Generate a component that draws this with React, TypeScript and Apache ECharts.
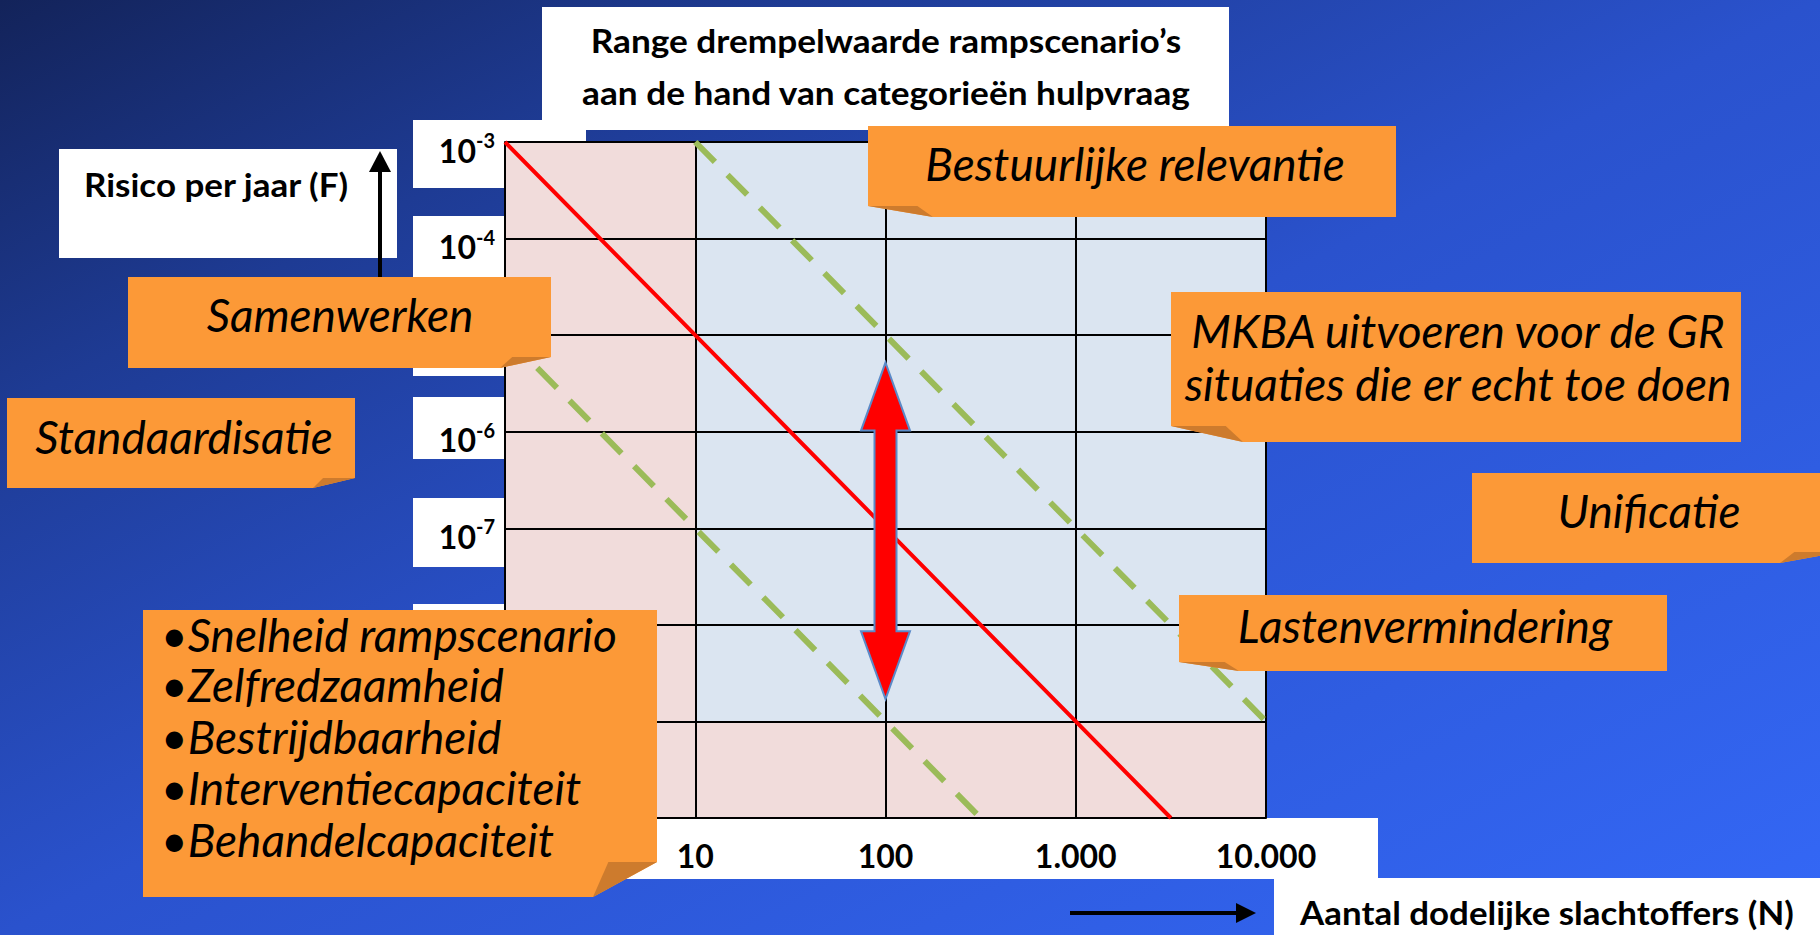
import React, { useEffect, useRef } from 'react';
import * as echarts from 'echarts';

// ---------- data ----------
const xExtent = [1, 10000];
const yExtent = [1e-10, 1e-3];
const redNorm = [[1, 1e-3], [10, 1e-5], [100, 1e-7], [1000, 1e-9], [3162, 1e-10]];
const greenUpper = [[10, 1e-3], [100, 1e-5], [1000, 1e-7], [10000, 1e-9]];
const greenLower = [[1, 1e-5], [10, 1e-7], [100, 1e-9], [316, 1e-10]];
// [xFrom, xTo, yFrom, yTo, zoneIndex]
const zoneRects = [
  [1, 10, 1e-10, 1e-3, 0],
  [10, 10000, 1e-10, 1e-9, 0],
  [10, 10000, 1e-9, 1e-3, 1],
];
// [x, yTop, yBottom]
const rangeArrow = [[100, 5.2e-6, 1.7e-9]];
// tick labels that are visible (the others sit behind the callout boxes)
const visibleXLabels = [10, 100, 1000, 10000];
const visibleYExponents = [-3, -4, -6, -7];

const titleLines = ['Range drempelwaarde rampscenario’s', 'aan de hand van categorieën hulpvraag'];
const yAxisName = 'Risico per jaar (F)';
const xAxisName = 'Aantal dodelijke slachtoffers (N)';
const bulletItems = ['Snelheid rampscenario', 'Zelfredzaamheid', 'Bestrijdbaarheid', 'Interventiecapaciteit', 'Behandelcapaciteit'];

// ---------- styles ----------
const FONT = 'Lato, "Open Sans", sans-serif';
const ZONE_COLORS = ['#F1DCDB', '#DBE5F1'];
const ORANGE = '#FC9937';
const FOLD = '#CD7B2D';

type Callout = {
  lines: string[];
  box: number[];
  fold: 'left' | 'right';
  fw: number;
  fd: number;
  tx: number;
  ty: number[];
  align?: 'left' | 'center';
};

const callouts: Callout[] = [
  { lines: ['Samenwerken'], box: [128, 277, 551, 368], fold: 'right', fw: 51, fd: 11, tx: 340, ty: [314] },
  { lines: ['Standaardisatie'], box: [7, 398, 355, 488], fold: 'right', fw: 42, fd: 10, tx: 184, ty: [436] },
  { lines: ['Bestuurlijke relevantie'], box: [868, 126, 1396, 217], fold: 'left', fw: 65, fd: 11, tx: 1135, ty: [163] },
  { lines: ['MKBA uitvoeren voor de GR', 'situaties die er echt toe doen'], box: [1171, 292, 1741, 442], fold: 'left', fw: 72, fd: 16, tx: 1458, ty: [330, 383] },
  { lines: ['Unificatie'], box: [1472, 473, 1840, 563], fold: 'right', fw: 60, fd: 11, tx: 1649, ty: [510] },
  { lines: ['Lastenvermindering'], box: [1179, 595, 1667, 671], fold: 'left', fw: 60, fd: 9, tx: 1425, ty: [625] },
  { lines: bulletItems.map((s) => '•' + s), box: [143, 610, 657, 897], fold: 'right', fw: 64, fd: 35, tx: 161, ty: [634, 684, 736, 787, 839], align: 'left' },
];

function calloutElements(c: Callout) {
  const [x0, y0, x1, y1] = c.box;
  const { fw, fd } = c;
  let pts: number[][];
  let foldPts: number[][];
  if (c.fold === 'right') {
    pts = [[x0, y0], [x1, y0], [x1, y1 - fd], [x1 - fw, y1], [x0, y1]];
    foldPts = [[x1 - fw, y1], [x1 - fw * 0.76, y1 - fd], [x1, y1 - fd]];
  } else {
    pts = [[x0, y0], [x1, y0], [x1, y1], [x0 + fw, y1], [x0, y1 - fd]];
    foldPts = [[x0 + fw, y1], [x0 + fw * 0.76, y1 - fd], [x0, y1 - fd]];
  }
  const els: any[] = [
    { type: 'polygon', z: 20, silent: true, shape: { points: pts }, style: { fill: ORANGE } },
    { type: 'polygon', z: 21, silent: true, shape: { points: foldPts }, style: { fill: FOLD } },
  ];
  c.lines.forEach((line, i) => {
    els.push({
      type: 'text',
      z: 22,
      silent: true,
      x: c.tx,
      y: c.ty[i],
      style: {
        text: line,
        fill: '#000',
        fontFamily: FONT,
        fontStyle: 'italic',
        fontSize: 46,
        align: c.align || 'center',
        verticalAlign: 'middle',
      },
    });
  });
  return els;
}

function whiteRect(x: number, y: number, w: number, h: number) {
  return { type: 'rect', z: 0, silent: true, shape: { x, y, width: w, height: h }, style: { fill: '#fff' } };
}

function boldText(text: string, x: number, y: number, size: number, sx: number) {
  return {
    type: 'text',
    z: 5,
    silent: true,
    x,
    y,
    scaleX: sx,
    style: { text, fill: '#000', fontFamily: FONT, fontWeight: 'bold', fontSize: size, align: 'center', verticalAlign: 'middle' },
  };
}

function formatN(v: number) {
  const n = Math.round(v);
  if (visibleXLabels.indexOf(n) < 0) return '';
  return String(n).replace(/\B(?=(\d{3})+(?!\d))/g, '.');
}

function formatF(v: number) {
  const e = Math.round(Math.log10(v));
  if (visibleYExponents.indexOf(e) < 0) return '';
  return `{b|10}{s|${e}}`;
}

function buildOption() {
  const graphics: any[] = [
    // white label boxes
    whiteRect(542, 7, 687, 123),
    whiteRect(413, 120, 173, 68),
    whiteRect(413, 216, 92, 64),
    whiteRect(413, 310, 92, 66),
    whiteRect(413, 397, 92, 62),
    whiteRect(413, 498, 92, 69),
    whiteRect(413, 604, 92, 62),
    whiteRect(420, 818, 958, 61),
    whiteRect(59, 149, 338, 109),
    whiteRect(1274, 878, 560, 60),
    // title
    boldText(titleLines[0], 886, 40, 33, 1.067),
    boldText(titleLines[1], 886, 92, 33, 1.067),
    // axis names
    boldText(yAxisName, 216, 184, 33, 1.06),
    boldText(xAxisName, 1547, 913, 32, 1.09),
    // up arrow
    { type: 'line', z: 5, silent: true, shape: { x1: 380, y1: 168, x2: 380, y2: 300 }, style: { stroke: '#000', lineWidth: 4 } },
    { type: 'polygon', z: 5, silent: true, shape: { points: [[380, 151], [391, 172], [369, 172]] }, style: { fill: '#000' } },
    // right arrow
    { type: 'line', z: 5, silent: true, shape: { x1: 1070, y1: 913, x2: 1240, y2: 913 }, style: { stroke: '#000', lineWidth: 4 } },
    { type: 'polygon', z: 5, silent: true, shape: { points: [[1256, 913], [1236, 903], [1236, 923]] }, style: { fill: '#000' } },
  ];
  callouts.forEach((c) => graphics.push(...calloutElements(c)));

  const axisLine = { show: true, lineStyle: { color: '#000', width: 2 } };
  const splitLine = { show: true, lineStyle: { color: '#000', width: 2 } };

  return {
    animation: false,
    backgroundColor: new echarts.graphic.LinearGradient(0, 0, 1, 1, [
      { offset: 0, color: '#13235a' },
      { offset: 0.22, color: '#1e3b94' },
      { offset: 0.5, color: '#2a52cd' },
      { offset: 1, color: '#3468f7' },
    ]),
    grid: { left: 505, top: 142, width: 761, height: 676, containLabel: false },
    xAxis: {
      type: 'log',
      logBase: 10,
      min: xExtent[0],
      max: xExtent[1],
      splitNumber: 4,
      z: 3,
      axisLine,
      axisTick: { show: false },
      splitLine,
      axisLabel: {
        margin: 21,
        color: '#000',
        fontFamily: FONT,
        fontWeight: 'bold',
        fontSize: 32,
        lineHeight: 32,
        formatter: (v: number) => formatN(v),
      },
    },
    yAxis: {
      type: 'log',
      logBase: 10,
      min: yExtent[0],
      max: yExtent[1],
      splitNumber: 7,
      z: 3,
      axisLine,
      axisTick: { show: false },
      splitLine,
      axisLabel: {
        margin: 10,
        padding: [16, 0, 0, 0],
        formatter: (v: number) => formatF(v),
        rich: {
          b: { color: '#000', fontFamily: FONT, fontWeight: 'bold', fontSize: 32, lineHeight: 40 },
          s: { color: '#000', fontFamily: FONT, fontWeight: 'bold', fontSize: 20, lineHeight: 16, verticalAlign: 'top' },
        },
      },
    },
    series: [
      {
        type: 'custom',
        z: 1,
        silent: true,
        data: zoneRects,
        encode: { x: [0, 1], y: [2, 3] },
        renderItem: (params: any, api: any) => {
          const tl = api.coord([api.value(0), api.value(3)]);
          const br = api.coord([api.value(1), api.value(2)]);
          return {
            type: 'rect',
            shape: { x: tl[0], y: tl[1], width: br[0] - tl[0], height: br[1] - tl[1] },
            style: { fill: ZONE_COLORS[api.value(4)] },
          };
        },
      },
      {
        type: 'line',
        z: 5,
        silent: true,
        data: greenUpper,
        symbol: 'none',
        lineStyle: { color: '#9BBB59', width: 6, type: [28, 18], cap: 'butt' },
      },
      {
        type: 'line',
        z: 5,
        silent: true,
        data: greenLower,
        symbol: 'none',
        lineStyle: { color: '#9BBB59', width: 6, type: [28, 18], cap: 'butt' },
      },
      {
        type: 'line',
        z: 5,
        silent: true,
        data: redNorm,
        symbol: 'none',
        lineStyle: { color: '#FF0000', width: 4 },
      },
      {
        type: 'custom',
        z: 6,
        silent: true,
        data: rangeArrow,
        encode: { x: 0, y: [1, 2] },
        renderItem: (params: any, api: any) => {
          const top = api.coord([api.value(0), api.value(1)]);
          const bot = api.coord([api.value(0), api.value(2)]);
          const x = top[0];
          const t = top[1];
          const b = bot[1];
          const hl = 68, hw = 24.5, sw = 11;
          const points = [
            [x, t], [x + hw, t + hl], [x + sw, t + hl], [x + sw, b - hl], [x + hw, b - hl],
            [x, b], [x - hw, b - hl], [x - sw, b - hl], [x - sw, t + hl], [x - hw, t + hl],
          ];
          return { type: 'polygon', shape: { points }, style: { fill: '#FF0000', stroke: '#5B8AC8', lineWidth: 2 } };
        },
      },
    ],
    graphic: { elements: graphics },
  };
}

export default function App() {
  const ref = useRef<HTMLDivElement>(null);
  useEffect(() => {
    if (!ref.current) return;
    const chart = echarts.init(ref.current, undefined, { renderer: 'svg' });
    chart.setOption(buildOption() as any);
    return () => chart.dispose();
  }, []);
  return <div ref={ref} style={{ position: 'fixed', left: 0, top: 0, width: 1820, height: 935 }} />;
}
